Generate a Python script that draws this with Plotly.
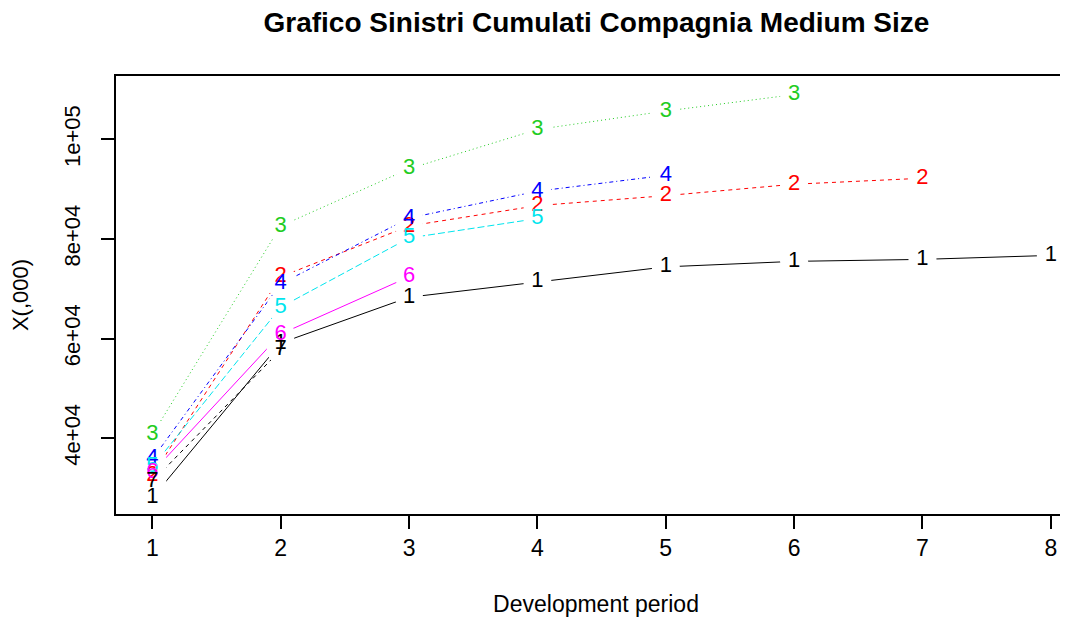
import plotly.graph_objects as go

# development periods
periods = [1, 2, 3, 4, 5, 6, 7, 8]

# cumulative claims per accident year
year1 = [28000, 59100, 68300, 71400, 74400, 75500, 75900, 76700]
year2 = [32500, 72400, 82600, 86700, 88700, 91000, 92200]
year3 = [40700, 82600, 94100, 102000, 105700, 109000]
year4 = [35800, 71000, 84200, 89600, 92800]
year5 = [34200, 66300, 80200, 84100]
year6 = [33100, 60900, 72400]
year7 = [31300, 57700]

series = [year1, year2, year3, year4, year5, year6, year7]
labels = ['1', '2', '3', '4', '5', '6', '7']
# R matplot defaults: col = 1:6, lty = 1:5
colors = ['black', '#FF0000', '#22CC22', '#0000FF', '#00E5EE', '#FF00FF', 'black']
dashes = ['solid', '4px,4px', '1px,3px', '1px,3px,4px,3px', '7px,3px', 'solid', '4px,4px']

font_family = 'Arial, Liberation Sans, sans-serif'

fig = go.Figure()

# lines first
for i in range(len(series)):
    fig.add_trace(go.Scatter(
        x=periods[:len(series[i])], y=series[i], mode='lines',
        line=dict(color=colors[i], width=1, dash=dashes[i]),
        showlegend=False, hoverinfo='skip'))

# white gaps round the points (type = "b")
for i in range(len(series)):
    fig.add_trace(go.Scatter(
        x=periods[:len(series[i])], y=series[i], mode='markers',
        marker=dict(symbol='circle', size=28, color='white', line=dict(width=0)),
        showlegend=False, hoverinfo='skip'))

# the number labels
for i in range(len(series)):
    fig.add_trace(go.Scatter(
        x=periods[:len(series[i])], y=series[i], mode='text',
        text=[labels[i]] * len(series[i]), textposition='middle center',
        textfont=dict(family=font_family, size=22, color=colors[i]),
        showlegend=False, hoverinfo='skip'))

# page has an 8px body margin, so the margins are 8px smaller
fig.update_layout(
    width=1068, height=619,
    paper_bgcolor='white', plot_bgcolor='white',
    margin=dict(l=108, r=0, t=68, b=113),
    title=dict(text='<b>Grafico Sinistri Cumulati Compagnia Medium Size</b>',
               x=0.551, xanchor='center', y=0.977, yanchor='middle',
               font=dict(family=font_family, size=28, color='black')),
    font=dict(family=font_family, color='black'),
)

fig.update_xaxes(
    range=[0.717, 8.196], tickvals=periods, ticktext=[str(p) for p in periods],
    showgrid=False, zeroline=False,
    showline=True, linecolor='black', linewidth=1.5, mirror=True,
    ticks='outside', ticklen=13, tickwidth=1.5, tickcolor='black',
    tickfont=dict(size=23), ticklabelstandoff=0,
    title=dict(text='Development period', font=dict(size=23), standoff=36),
)

fig.update_yaxes(
    range=[24750, 112740], tickvals=[40000, 60000, 80000, 100000],
    ticktext=['4e+04', '6e+04', '8e+04', '1e+05'], tickangle=-90,
    showgrid=False, zeroline=False,
    showline=True, linecolor='black', linewidth=1.5, mirror=False,
    ticks='outside', ticklen=13, tickwidth=1.5, tickcolor='black',
    tickfont=dict(size=22), ticklabelstandoff=12,
    title=dict(text='X(,000)', font=dict(size=22), standoff=26),
)

fig.write_html('out.html')
